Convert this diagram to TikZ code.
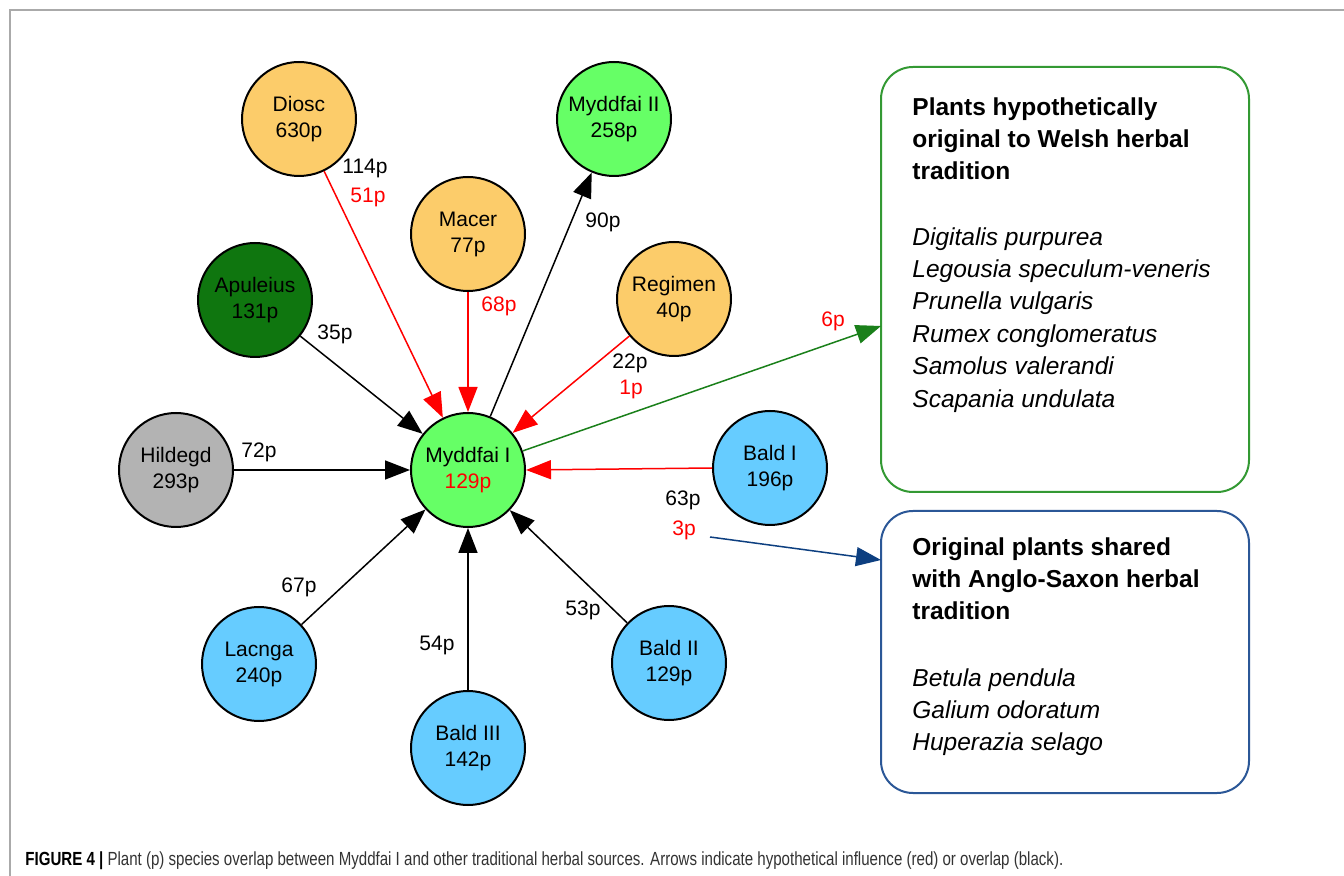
\documentclass[tikz,border=0pt]{standalone}
\usepackage{fontspec}
\setmainfont{Liberation Sans}
\usetikzlibrary{arrows.meta}
\definecolor{orng}{HTML}{FCCC6A}
\definecolor{lgreen}{HTML}{66FF66}
\definecolor{dgreen}{HTML}{0F760F}
\definecolor{lgray}{HTML}{B3B3B3}
\definecolor{lblue}{HTML}{66CCFF}
\definecolor{boxgreen}{HTML}{339933}
\definecolor{arrgreen}{HTML}{1A801A}
\definecolor{boxblue}{HTML}{2B5797}
\definecolor{arrblue}{HTML}{0D3F80}
\definecolor{framegray}{HTML}{AAAAAA}
\definecolor{captext}{HTML}{333333}
\tikzset{
  src/.style={circle, draw=black, line width=1pt, minimum size=57pt, inner sep=0pt, align=center, font=\fontsize{10.5}{13}\selectfont},
  elabel/.style={inner sep=0pt, font=\fontsize{10.5}{13}\selectfont},
  blk/.style={draw=black, line width=0.75pt, -{Triangle[length=12.5pt,width=9.5pt]}},
  rd/.style={draw=red, line width=0.75pt, -{Triangle[length=12.5pt,width=9.5pt]}},
  infobox/.style={draw, line width=1pt, rounded corners=16pt, minimum width=184pt, inner sep=0pt},
  heading/.style={anchor=north west, inner sep=0pt, align=left, font=\fontsize{12.25}{16.2}\selectfont\bfseries},
  species/.style={anchor=north west, inner sep=0pt, align=left, font=\fontsize{12.25}{16.2}\selectfont\itshape}
}
\begin{document}
\begin{tikzpicture}[x=0.5pt,y=-0.5pt]
\useasboundingbox (0,0) rectangle (1344,876);
\fill[white] (0,0) rectangle (1344,876);
\draw[framegray, line width=0.75pt] (10,876) -- (10,10) -- (1344,10);

% source nodes
\node[src, fill=orng] (diosc) at (299,119) {Diosc\\630p};
\node[src, fill=lgreen] (myd2) at (614,119) {Myddfai II\\258p};
\node[src, fill=orng] (macer) at (468,234) {Macer\\77p};
\node[src, fill=dgreen] (apul) at (255,300) {Apuleius\\131p};
\node[src, fill=orng] (regim) at (674,299) {Regimen\\40p};
\node[src, fill=lgray] (hild) at (176,470) {Hildegd\\293p};
\node[src, fill=lgreen] (myd1) at (468,470) {Myddfai I\\\textcolor{red}{129p}};
\node[src, fill=lblue] (bald1) at (770,468) {Bald I\\196p};
\node[src, fill=lblue] (lacnga) at (259,664) {Lacnga\\240p};
\node[src, fill=lblue] (bald3) at (468,748) {Bald III\\142p};
\node[src, fill=lblue] (bald2) at (669,663) {Bald II\\129p};

% connectors
\draw[rd] (diosc) -- (myd1);
\draw[rd] (macer) -- (myd1);
\draw[blk] (myd1) -- (myd2);
\draw[blk] (apul) -- (myd1);
\draw[rd] (regim) -- (myd1);
\draw[blk] (hild) -- (myd1);
\draw[rd] (bald1.west) -- (myd1.east);
\draw[blk] (lacnga) -- (myd1);
\draw[blk] (bald3) -- (myd1);
\draw[blk] (bald2) -- (myd1);

% edge labels
\node[elabel] (l114) at (365,168) {114p};
\node[elabel, text=red] (l51) at (368,197) {51p};
\node[elabel, text=red] (l68) at (499,306) {68p};
\node[elabel] (l90) at (603,222) {90p};
\node[elabel] (l35) at (335,334) {35p};
\node[elabel] (l22) at (630,363) {22p};
\node[elabel, text=red] (l1) at (631,389) {1p};
\node[elabel, text=red] (l6) at (833,321) {6p};
\node[elabel] (l63) at (683,500) {63p};
\node[elabel, text=red] (l3) at (684,530) {3p};
\node[elabel] (l72) at (259,452) {72p};
\node[elabel] (l67) at (299,587) {67p};
\node[elabel] (l54) at (437,645) {54p};
\node[elabel] (l53) at (583,610) {53p};

% info boxes
\node[infobox, draw=boxgreen, minimum height=212.5pt] (gbox) at (1065,279.5) {};
\node[infobox, draw=boxblue, minimum height=141pt] (bbox) at (1065,652) {};

\node[heading] (gh) at (912,97) {Plants hypothetically\\original to Welsh herbal\\tradition};
\node[species] (gs) at (912,227) {Digitalis purpurea\\Legousia speculum-veneris\\Prunella vulgaris\\Rumex conglomeratus\\Samolus valerandi\\Scapania undulata};
\node[heading] (bh) at (912,537) {Original plants shared\\with Anglo-Saxon herbal\\tradition};
\node[species] (bs) at (912,668) {Betula pendula\\Galium odoratum\\Huperazia selago};

% arrows to boxes
\coordinate (gtip) at (881,326);
\draw[arrgreen, line width=0.75pt, -{Triangle[length=12.5pt,width=9.5pt]}] (myd1) -- (gtip);
\coordinate (bstart) at (710,537);
\coordinate (btip) at (881,560);
\draw[arrblue, line width=0.75pt, -{Triangle[length=12.5pt,width=9.5pt]}] (bstart) -- (btip);

% caption
\node[anchor=base west, inner sep=0pt, text=captext] (cap) at (25,865) {\resizebox{519pt}{\height}{\fontsize{9.5}{11}\selectfont\textbf{\textcolor{black}{FIGURE 4 |}} Plant (p) species overlap between Myddfai I and other traditional herbal sources. Arrows indicate hypothetical influence (red) or overlap (black).}};
\end{tikzpicture}
\end{document}
